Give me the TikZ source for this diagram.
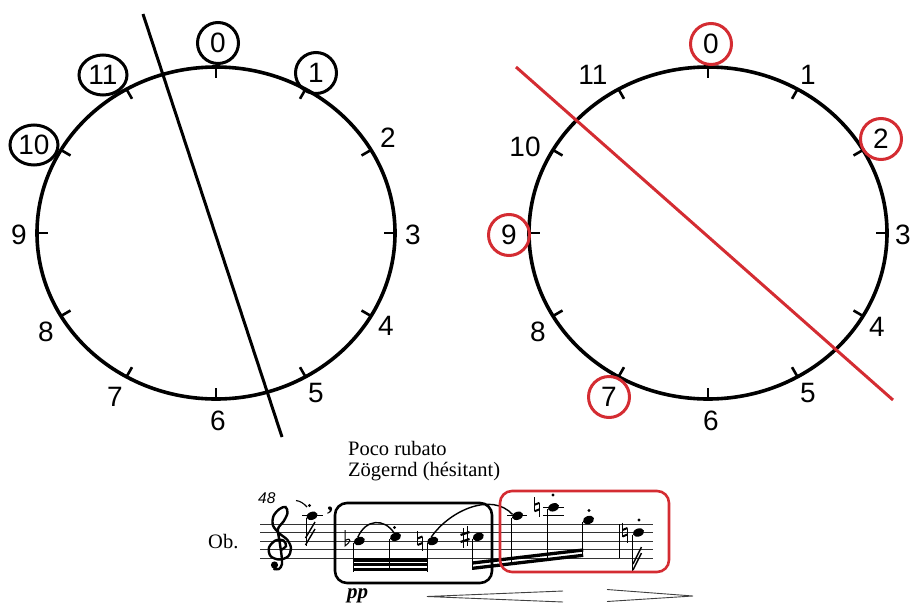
\documentclass[tikz,border=0pt]{standalone}
\usepackage{fontspec}
\setmainfont{Liberation Serif}
\setsansfont{Liberation Sans}
\usetikzlibrary{positioning,shapes.geometric}
\definecolor{markred}{RGB}{212,44,50}

\tikzset{
  flatmark/.pic={\draw[line width=1pt] (0,-11) -- (0,5) .. controls (5.5,1.5) and (7.5,-4.5) .. (0,-0.5);},
  natmark/.pic={\draw[line width=0.9pt] (-2.5,-10) -- (-2.5,4) (2.5,-4) -- (2.5,10);
    \draw[line width=2pt] (-2.5,-2.5) -- (2.5,-4.5) (-2.5,4) -- (2.5,2);},
  sharpmark/.pic={\draw[line width=0.9pt] (-2,-9) -- (-2,11) (2,-11) -- (2,9);
    \draw[line width=2.2pt] (-4.5,-2) -- (4.5,-5) (-4.5,5) -- (4.5,2);},
}

\begin{document}
\begin{tikzpicture}[x=1pt, y=-1pt,
    num/.style={font=\sffamily\fontsize{28}{28}\selectfont, inner sep=0pt},
    ringk/.style={num, draw, circle, line width=3pt, minimum size=41pt},
    ringwide/.style={num, draw, ellipse, line width=3pt, minimum width=48pt, minimum height=40pt},
    ringr/.style={ringk, draw=markred},
    dial/.style={line width=3.6pt},
    tick/.style={line width=2.6pt},
    staffline/.style={line width=0.9pt, black!80},
    notehead/.style={fill, ellipse, inner sep=0pt, minimum width=11.5pt, minimum height=8pt, rotate=20},
    stem/.style={line width=0.9pt},
    beam/.style={line width=3.3pt},
    slur/.style={line width=1.4pt},
    score/.style={font=\fontsize{20.5}{20.5}\selectfont, inner sep=0pt}]
    \useasboundingbox (0,0) rectangle (912,605);

    % left dial
    \draw[dial] (216,233) ellipse [x radius=179pt, y radius=166pt];
    \draw[tick] (216,67) -- (216,78);
    \draw[tick] (305.5,89.2) -- (300,98.8);
    \draw[tick] (371,150) -- (361.5,155.5);
    \draw[tick] (395,233) -- (384,233);
    \draw[tick] (371,316) -- (361.5,310.5);
    \draw[tick] (305.5,376.8) -- (300,367.2);
    \draw[tick] (216,399) -- (216,388);
    \draw[tick] (126.5,376.8) -- (132,367.2);
    \draw[tick] (61,316) -- (70.5,310.5);
    \draw[tick] (37,233) -- (48,233);
    \draw[tick] (61,150) -- (70.5,155.5);
    \draw[tick] (126.5,89.2) -- (132,98.8);

    \node[ringk] (l0) at (218,43) {0};
    \node[ringk] (l1) at (316,73) {1};
    \node[num] (l2) at (388,138) {2};
    \node[num] (l3) at (413,235) {3};
    \node[num] (l4) at (386,326) {4};
    \node[num] (l5) at (316,393) {5};
    \node[num] (l6) at (218,421) {6};
    \node[num] (l7) at (115,397) {7};
    \node[num] (l8) at (46,332) {8};
    \node[num] (l9) at (19,235) {9};
    \node[ringwide] (l10) at (34,145) {10};
    \node[ringwide] (l11) at (103,75) {11};

    \coordinate (cutL1) at (143,14);
    \coordinate (cutL2) at (282,437);
    \draw[line width=3pt] (cutL1) -- (cutL2);

    % right dial
    \draw[dial] (708,233) ellipse [x radius=179pt, y radius=166pt];
    \draw[tick] (708,67) -- (708,78);
    \draw[tick] (797.5,89.2) -- (792,98.8);
    \draw[tick] (863,150) -- (853.5,155.5);
    \draw[tick] (887,233) -- (876,233);
    \draw[tick] (863,316) -- (853.5,310.5);
    \draw[tick] (797.5,376.8) -- (792,367.2);
    \draw[tick] (708,399) -- (708,388);
    \draw[tick] (618.5,376.8) -- (624,367.2);
    \draw[tick] (553,316) -- (562.5,310.5);
    \draw[tick] (529,233) -- (540,233);
    \draw[tick] (553,150) -- (562.5,155.5);
    \draw[tick] (618.5,89.2) -- (624,98.8);

    \node[ringr] (r0) at (711,44) {0};
    \node[num] (r1) at (808,75) {1};
    \node[ringr] (r2) at (881,139) {2};
    \node[num] (r3) at (903,235) {3};
    \node[num] (r4) at (877,327) {4};
    \node[num] (r5) at (808,393) {5};
    \node[num] (r6) at (711,421) {6};
    \node[ringr] (r7) at (609,397) {7};
    \node[num] (r8) at (538,332) {8};
    \node[ringr] (r9) at (509,235) {9};
    \node[num] (r10) at (525,147) {10};
    \node[num] (r11) at (593,75) {11};

    \coordinate (cutR1) at (516,67);
    \coordinate (cutR2) at (893,400);
    \draw[markred, line width=3pt] (cutR1) -- (cutR2);

    % score excerpt
    \node[score, anchor=base west, align=left] (tempo) at (348,476) {Poco rubato\\Zögernd (hésitant)};
    \node[score, anchor=base west] (instr) at (208,548) {Ob.};
    \node[font=\sffamily\itshape\fontsize{15.5}{15.5}\selectfont, inner sep=0pt, anchor=base west] (barno) at (258,503) {48};
    \node[font=\bfseries\itshape\fontsize{21}{21}\selectfont, inner sep=0pt, anchor=base west] (dyn) at (347,598.5) {pp};
    \node[font=\bfseries\fontsize{24}{24}\selectfont, inner sep=0pt, anchor=base] (breath) at (330,510) {,};

    \draw[staffline] (260,524) -- (653,524) (260,532.5) -- (653,532.5) (260,541) -- (653,541)
      (260,549.5) -- (653,549.5) (260,558) -- (653,558);
    \draw[stem] (619,524) -- (619,558);

    % clef
    \draw[line width=2.4pt, line cap=round] plot[smooth, tension=0.55] coordinates {(281,550) (286,546)
      (283.5,540.5) (275.5,540.5) (269,547.5) (270.5,556) (279,559.5) (288,556.5) (291,548.5) (287.5,540)
      (279.5,533.5) (273,525.5) (273.5,516) (279.5,509) (285.5,507) (287.5,513) (283.5,521.5)
      (278,529) (279.5,541) (281.5,555) (282,564) (279,569) (274,569)};
    \fill (274.5,565) circle (3.6pt);

    % notes
    \node[notehead] (n0) at (312,515.8) {};
    \node[notehead] (n1) at (359.3,541) {};
    \node[notehead] (n2) at (395.5,536.8) {};
    \node[notehead] (n3) at (432.7,541) {};
    \node[notehead] (n4) at (478.3,536.8) {};
    \node[notehead] (n5) at (517.5,515.8) {};
    \node[notehead] (n6) at (553.5,507.3) {};
    \node[notehead] (n7) at (588.5,520) {};
    \node[notehead] (n8) at (638.5,532.5) {};

    \draw[stem] (302,515.8) -- (323,515.8) (507,515.8) -- (527,515.8)
      (543,515.8) -- (564,515.8) (543,507.3) -- (564,507.3);

    \draw[stem] (n0.west) -- ++(0,28);
    \draw[stem] (n1.west) -- ++(0,28.5);
    \draw[stem] (n2.west) -- ++(0,32.5);
    \draw[stem] (n3.west) -- ++(0,28.5);
    \draw[stem] (n4.west) -- ++(0,31);
    \draw[stem] (n5.west) -- ++(0,47.5);
    \draw[stem] (n6.west) -- ++(0,52);
    \draw[stem] (n7.west) -- ++(0,35);
    \draw[stem] (n8.west) -- ++(0,36);

    \draw[beam] (353.5,560) -- (427.7,560) (353.5,564.6) -- (427.7,564.6) (353.5,569.2) -- (427.7,569.2);
    \draw[beam] (472.5,563) -- (583.2,550) (472.5,568.3) -- (583.2,555.3);
    \draw[line width=1.4pt] (305.5,545) -- (315,529) (305.5,538) -- (315,522);
    \draw[line width=1.4pt] (633,570) -- (641.5,553) (633,564) -- (641.5,547);

    \pic at (345,541) {flatmark};
    \pic at (420,541) {natmark};
    \pic at (465,537) {sharpmark};
    \pic at (537,507.3) {natmark};
    \pic at (625,532.5) {natmark};

    \fill (309.5,505.5) circle (1.7pt);
    \fill (394.5,527.5) circle (1.7pt);
    \fill (553,495) circle (1.7pt);
    \fill (589,510.5) circle (1.7pt);
    \fill (639,520) circle (1.7pt);

    \draw[line width=1.1pt] (296,500.5) .. controls (300,501) and (304,503.5) .. (307,507);
    \draw[slur] (n1.north) .. controls (366,519) and (384,518) .. (n2.north);
    \draw[slur] (n3.north) .. controls (450,510) and (492,492) .. (n5.north west);

    % boxes and hairpins
    \draw[line width=2.6pt, rounded corners=12pt] (335,503) rectangle (492,583);
    \draw[markred, line width=2.6pt, rounded corners=12pt] (500,491) rectangle (669,572);
    \draw[line width=0.9pt, black!75] (563,591) -- (427,596.5) -- (563,602);
    \draw[line width=0.9pt, black!75] (607,589.5) -- (693,596) -- (607,601.5);
  \end{tikzpicture}
\end{document}
